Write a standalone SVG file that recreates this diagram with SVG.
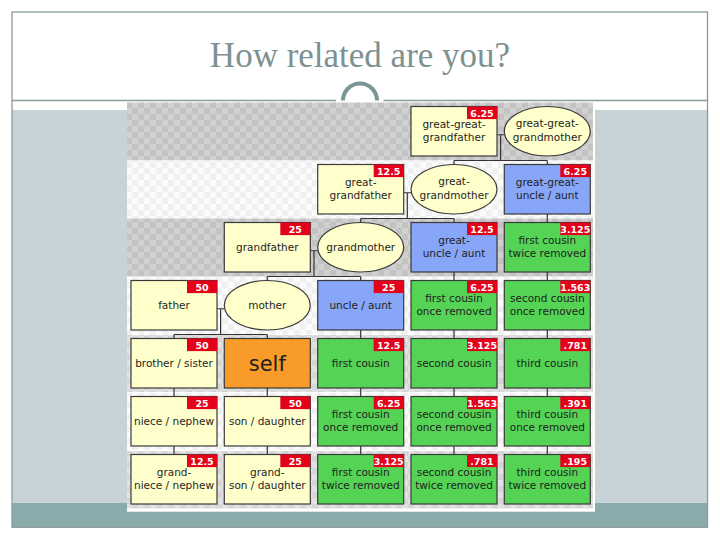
<svg xmlns="http://www.w3.org/2000/svg" width="720" height="540" viewBox="0 0 720 540">
<defs>
<pattern id="chkD" width="12" height="12" patternUnits="userSpaceOnUse"><rect width="12" height="12" fill="#d0d0d0"/><rect width="6" height="6" fill="#c3c3c3"/><rect x="6" y="6" width="6" height="6" fill="#c3c3c3"/></pattern>
<pattern id="chkM" width="12" height="12" patternUnits="userSpaceOnUse"><rect width="12" height="12" fill="#e2e2e2"/><rect width="6" height="6" fill="#d6d6d6"/><rect x="6" y="6" width="6" height="6" fill="#d6d6d6"/></pattern>
<pattern id="chkL" width="12" height="12" patternUnits="userSpaceOnUse"><rect width="12" height="12" fill="#fbfbfb"/><rect width="6" height="6" fill="#f0f0f0"/><rect x="6" y="6" width="6" height="6" fill="#f0f0f0"/></pattern>
<style>
.b{stroke:#3a3a3a;stroke-width:1.2}
.y{fill:#ffffcc}.bl{fill:#88a6f7}.g{fill:#55d355}.o{fill:#f99b29}
.t{font-family:"DejaVu Sans",sans-serif;font-size:10.5px;fill:#1e1e1e;text-anchor:middle}
.bd{fill:#e4001b}
.bt{font-family:"DejaVu Sans",sans-serif;font-size:9.5px;font-weight:bold;fill:#ffffff;text-anchor:middle}
.c{stroke:#333333;stroke-width:1.2;fill:none}
</style>
</defs>
<rect width="720" height="540" fill="#ffffff"/>
<rect x="12" y="110" width="695.5" height="393" fill="#c8d3d8"/>
<rect x="12" y="503" width="695.5" height="24.3" fill="#8aabab"/>
<rect x="12" y="12" width="695.5" height="515.3" fill="none" stroke="#8c9a9a" stroke-width="1.3"/>
<path d="M12,100.5H336M383.5,100.5H707.5" stroke="#8c9a9a" stroke-width="1.3"/>
<path d="M343,100.5A17,17 0 0 1 377,100.5" fill="none" stroke="#7d9595" stroke-width="4"/>
<text x="360" y="67" font-family="Liberation Serif, serif" font-size="35" fill="#7d9191" text-anchor="middle">How related are you?</text>
<g id="image-bg">
<rect x="127" y="102.5" width="468" height="409.2" fill="#ffffff"/>
<rect x="127" y="102.5" width="466" height="58" fill="url(#chkD)"/>
<rect x="127" y="160.5" width="466" height="58" fill="url(#chkL)"/>
<rect x="127" y="218.5" width="466" height="58" fill="url(#chkD)"/>
<rect x="127" y="277.5" width="466" height="57" fill="url(#chkL)"/>
<rect x="127" y="335" width="466" height="57" fill="url(#chkM)"/>
<rect x="127" y="393" width="466" height="57" fill="url(#chkL)"/>
<rect x="127" y="451" width="466" height="57.5" fill="url(#chkM)"/>
</g>
<g id="connectors">
<path class="c" d="M497,134.75H504.3M500.6,134.75V160.5M454,160.5H547.3M454,160.5V164.5M547.3,160.5V164.5"/>
<path class="c" d="M403.7,192.75H411M407.3,192.75V218.5M360.7,218.5H454M360.7,218.5V222.5M454,218.5V222.5"/>
<path class="c" d="M310.3,250.75H317.7M314,250.75V276.5M267.3,276.5H360.7M267.3,276.5V280.5M360.7,276.5V280.5"/>
<path class="c" d="M217,308.75H224.3M220.6,308.75V334.5M174,334.5H267.3M174,334.5V338.5M267.3,334.5V338.5"/>
<path class="c" d="M547.3,214V222.5M547.3,272V280.5M547.3,330V338.5M547.3,388V396.5M547.3,446V454.5"/>
<path class="c" d="M454,272V280.5M454,330V338.5M454,388V396.5M454,446V454.5"/>
<path class="c" d="M360.7,330V338.5M360.7,388V396.5M360.7,446V454.5"/>
<path class="c" d="M267.3,388V396.5M267.3,446V454.5M174,388V396.5M174,446V454.5"/>
</g>
<g id="n-ggf"><rect class="b y" x="411" y="106.5" width="86" height="49.5"/><rect class="bd" x="467" y="106.5" width="30" height="12.6"/><text class="bt" x="482" y="116.6">6.25</text><text class="t" x="454" y="127.7">great-great-</text><text class="t" x="454" y="141">grandfather</text></g>
<g id="n-ggm"><ellipse class="b y" cx="547.3" cy="131.25" rx="43" ry="24.75"/><text class="t" x="547.3" y="127.2">great-great-</text><text class="t" x="547.3" y="140.5">grandmother</text></g>
<g id="n-gf2"><rect class="b y" x="317.7" y="164.5" width="86" height="49.5"/><rect class="bd" x="373.7" y="164.5" width="30" height="12.6"/><text class="bt" x="388.7" y="174.6">12.5</text><text class="t" x="360.7" y="185.7">great-</text><text class="t" x="360.7" y="199">grandfather</text></g>
<g id="n-gm2"><ellipse class="b y" cx="454" cy="189.25" rx="43" ry="24.75"/><text class="t" x="454" y="185.2">great-</text><text class="t" x="454" y="198.5">grandmother</text></g>
<g id="n-ggu"><rect class="b bl" x="504.3" y="164.5" width="86" height="49.5"/><rect class="bd" x="560.3" y="164.5" width="30" height="12.6"/><text class="bt" x="575.3" y="174.6">6.25</text><text class="t" x="547.3" y="185.7">great-great-</text><text class="t" x="547.3" y="199">uncle / aunt</text></g>
<g id="n-gf"><rect class="b y" x="224.3" y="222.5" width="86" height="49.5"/><rect class="bd" x="280.3" y="222.5" width="30" height="12.6"/><text class="bt" x="295.3" y="232.6">25</text><text class="t" x="267.3" y="250.6">grandfather</text></g>
<g id="n-gm"><ellipse class="b y" cx="360.7" cy="247.25" rx="43" ry="24.75"/><text class="t" x="360.7" y="250.6">grandmother</text></g>
<g id="n-gu"><rect class="b bl" x="411" y="222.5" width="86" height="49.5"/><rect class="bd" x="467" y="222.5" width="30" height="12.6"/><text class="bt" x="482" y="232.6">12.5</text><text class="t" x="454" y="243.7">great-</text><text class="t" x="454" y="257">uncle / aunt</text></g>
<g id="n-fc2a"><rect class="b g" x="504.3" y="222.5" width="86" height="49.5"/><rect class="bd" x="560.3" y="222.5" width="30" height="12.6"/><text class="bt" x="575.3" y="232.6">3.125</text><text class="t" x="547.3" y="243.7">first cousin</text><text class="t" x="547.3" y="257">twice removed</text></g>
<g id="n-f"><rect class="b y" x="131" y="280.5" width="86" height="49.5"/><rect class="bd" x="187" y="280.5" width="30" height="12.6"/><text class="bt" x="202" y="290.6">50</text><text class="t" x="174" y="308.6">father</text></g>
<g id="n-m"><ellipse class="b y" cx="267.3" cy="305.25" rx="43" ry="24.75"/><text class="t" x="267.3" y="308.6">mother</text></g>
<g id="n-u"><rect class="b bl" x="317.7" y="280.5" width="86" height="49.5"/><rect class="bd" x="373.7" y="280.5" width="30" height="12.6"/><text class="bt" x="388.7" y="290.6">25</text><text class="t" x="360.7" y="308.6">uncle / aunt</text></g>
<g id="n-fc1a"><rect class="b g" x="411" y="280.5" width="86" height="49.5"/><rect class="bd" x="467" y="280.5" width="30" height="12.6"/><text class="bt" x="482" y="290.6">6.25</text><text class="t" x="454" y="301.7">first cousin</text><text class="t" x="454" y="315">once removed</text></g>
<g id="n-sc1a"><rect class="b g" x="504.3" y="280.5" width="86" height="49.5"/><rect class="bd" x="560.3" y="280.5" width="30" height="12.6"/><text class="bt" x="575.3" y="290.6">1.563</text><text class="t" x="547.3" y="301.7">second cousin</text><text class="t" x="547.3" y="315">once removed</text></g>
<g id="n-bs"><rect class="b y" x="131" y="338.5" width="86" height="49.5"/><rect class="bd" x="187" y="338.5" width="30" height="12.6"/><text class="bt" x="202" y="348.6">50</text><text class="t" x="174" y="366.8">brother / sister</text></g>
<g id="n-self"><rect class="b o" x="224.3" y="338.5" width="86" height="49.5"/><text x="267.3" y="370.5" font-family="DejaVu Sans, sans-serif" font-size="21" fill="#1e1e1e" text-anchor="middle">self</text></g>
<g id="n-fc"><rect class="b g" x="317.7" y="338.5" width="86" height="49.5"/><rect class="bd" x="373.7" y="338.5" width="30" height="12.6"/><text class="bt" x="388.7" y="348.6">12.5</text><text class="t" x="360.7" y="366.8">first cousin</text></g>
<g id="n-sc"><rect class="b g" x="411" y="338.5" width="86" height="49.5"/><rect class="bd" x="467" y="338.5" width="30" height="12.6"/><text class="bt" x="482" y="348.6">3.125</text><text class="t" x="454" y="366.8">second cousin</text></g>
<g id="n-tc"><rect class="b g" x="504.3" y="338.5" width="86" height="49.5"/><rect class="bd" x="560.3" y="338.5" width="30" height="12.6"/><text class="bt" x="575.3" y="348.6">.781</text><text class="t" x="547.3" y="366.8">third cousin</text></g>
<g id="n-nn"><rect class="b y" x="131" y="396.5" width="86" height="49.5"/><rect class="bd" x="187" y="396.5" width="30" height="12.6"/><text class="bt" x="202" y="406.6">25</text><text class="t" x="174" y="424.6">niece / nephew</text></g>
<g id="n-sd"><rect class="b y" x="224.3" y="396.5" width="86" height="49.5"/><rect class="bd" x="280.3" y="396.5" width="30" height="12.6"/><text class="bt" x="295.3" y="406.6">50</text><text class="t" x="267.3" y="424.6">son / daughter</text></g>
<g id="n-fc1b"><rect class="b g" x="317.7" y="396.5" width="86" height="49.5"/><rect class="bd" x="373.7" y="396.5" width="30" height="12.6"/><text class="bt" x="388.7" y="406.6">6.25</text><text class="t" x="360.7" y="417.7">first cousin</text><text class="t" x="360.7" y="431">once removed</text></g>
<g id="n-sc1b"><rect class="b g" x="411" y="396.5" width="86" height="49.5"/><rect class="bd" x="467" y="396.5" width="30" height="12.6"/><text class="bt" x="482" y="406.6">1.563</text><text class="t" x="454" y="417.7">second cousin</text><text class="t" x="454" y="431">once removed</text></g>
<g id="n-tc1"><rect class="b g" x="504.3" y="396.5" width="86" height="49.5"/><rect class="bd" x="560.3" y="396.5" width="30" height="12.6"/><text class="bt" x="575.3" y="406.6">.391</text><text class="t" x="547.3" y="417.7">third cousin</text><text class="t" x="547.3" y="431">once removed</text></g>
<g id="n-gnn"><rect class="b y" x="131" y="454.5" width="86" height="49.5"/><rect class="bd" x="187" y="454.5" width="30" height="12.6"/><text class="bt" x="202" y="464.6">12.5</text><text class="t" x="174" y="475.7">grand-</text><text class="t" x="174" y="489">niece / nephew</text></g>
<g id="n-gsd"><rect class="b y" x="224.3" y="454.5" width="86" height="49.5"/><rect class="bd" x="280.3" y="454.5" width="30" height="12.6"/><text class="bt" x="295.3" y="464.6">25</text><text class="t" x="267.3" y="475.7">grand-</text><text class="t" x="267.3" y="489">son / daughter</text></g>
<g id="n-fc2b"><rect class="b g" x="317.7" y="454.5" width="86" height="49.5"/><rect class="bd" x="373.7" y="454.5" width="30" height="12.6"/><text class="bt" x="388.7" y="464.6">3.125</text><text class="t" x="360.7" y="475.7">first cousin</text><text class="t" x="360.7" y="489">twice removed</text></g>
<g id="n-sc2"><rect class="b g" x="411" y="454.5" width="86" height="49.5"/><rect class="bd" x="467" y="454.5" width="30" height="12.6"/><text class="bt" x="482" y="464.6">.781</text><text class="t" x="454" y="475.7">second cousin</text><text class="t" x="454" y="489">twice removed</text></g>
<g id="n-tc2"><rect class="b g" x="504.3" y="454.5" width="86" height="49.5"/><rect class="bd" x="560.3" y="454.5" width="30" height="12.6"/><text class="bt" x="575.3" y="464.6">.195</text><text class="t" x="547.3" y="475.7">third cousin</text><text class="t" x="547.3" y="489">twice removed</text></g>
</svg>
